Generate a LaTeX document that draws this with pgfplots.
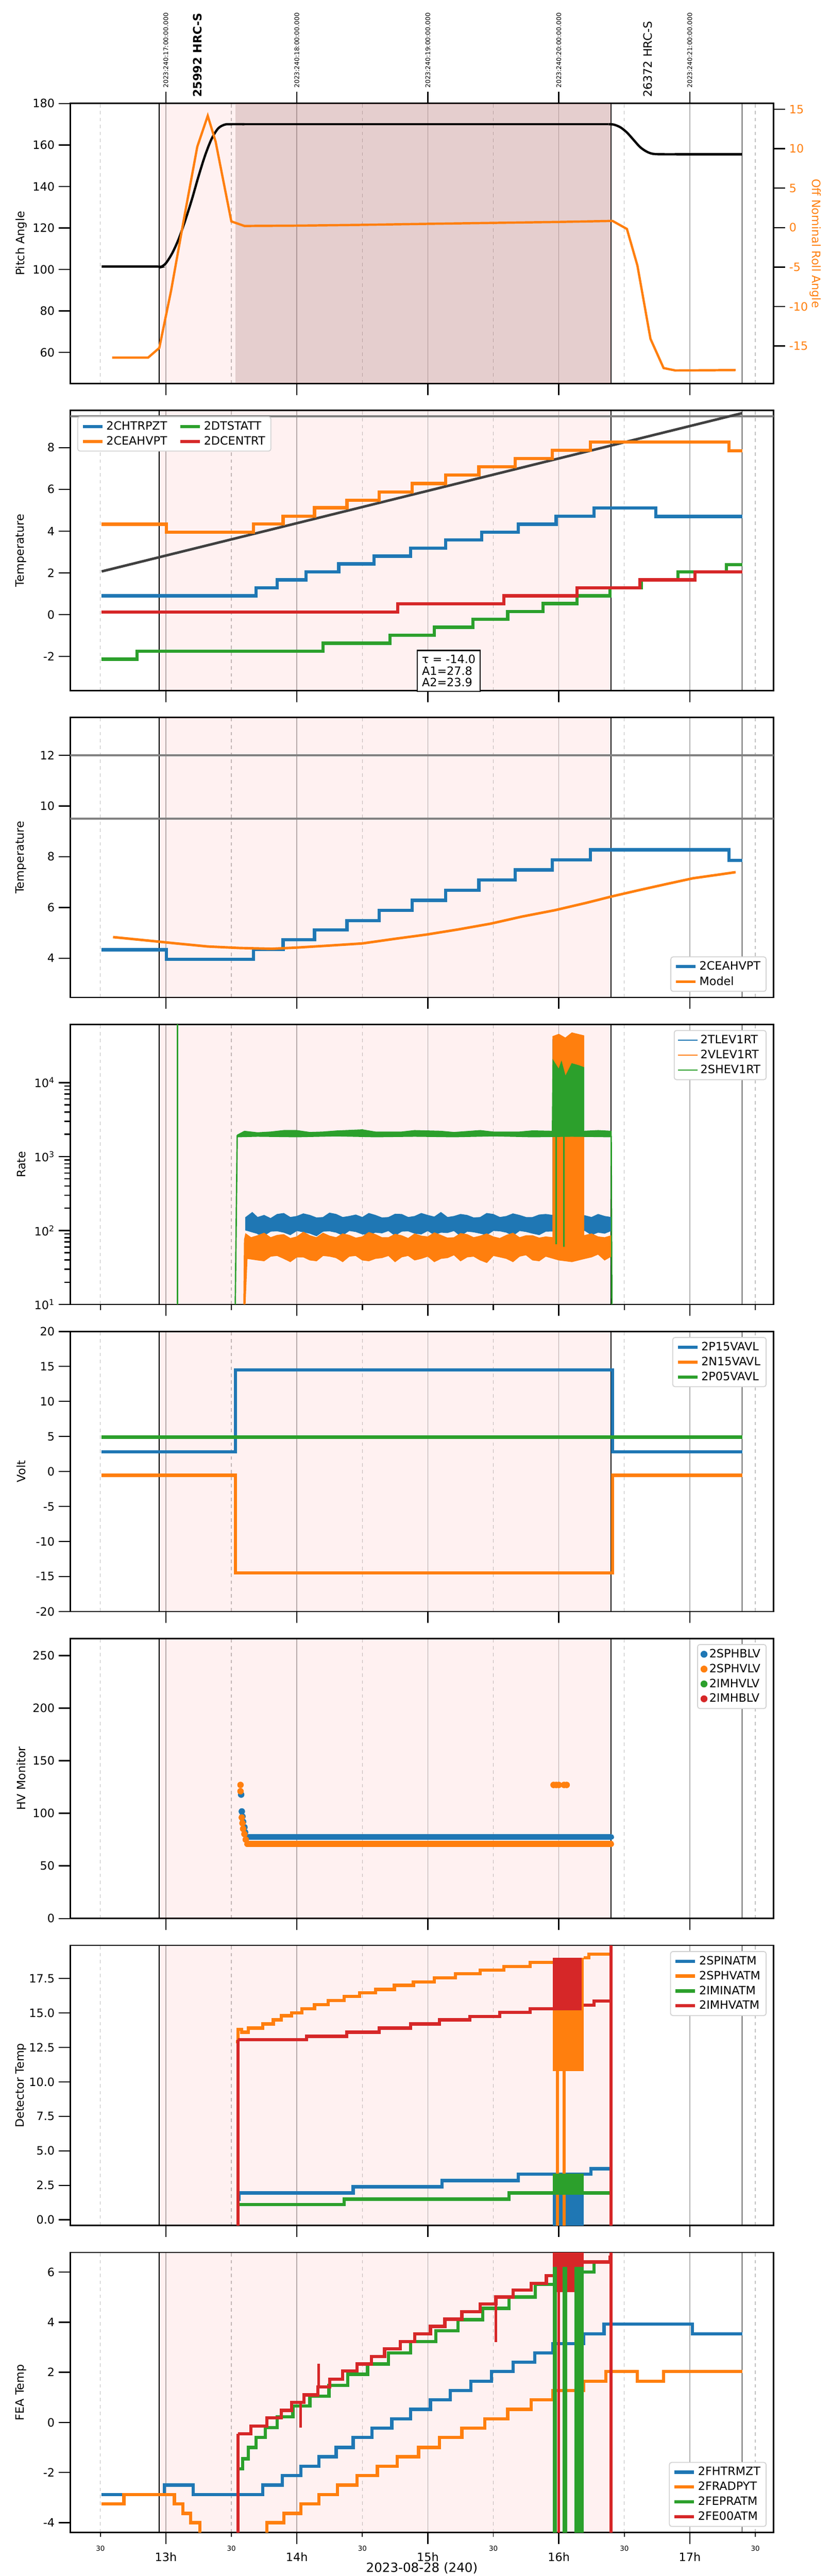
\documentclass[border=0pt]{standalone}
\usepackage{pgfplots}
\pgfplotsset{compat=1.18}
\usepackage{fontspec}
\setmainfont{DejaVu Sans}
\definecolor{tb}{HTML}{1F77B4}
\definecolor{to}{HTML}{FF7F0E}
\definecolor{tg}{HTML}{2CA02C}
\definecolor{tr}{HTML}{D62728}
\definecolor{darkreg}{RGB}{150,100,100}
\newcommand{\fs}[1]{\fontsize{#1}{#1}\selectfont}
\newcommand{\decor}{%
 \fill[red, opacity=0.055] (rel axis cs:0.12663,0) rectangle (rel axis cs:0.76909,1);
 \draw[black, line width=0.8pt] (rel axis cs:0.12663,0)--(rel axis cs:0.12663,1);
 \draw[black, line width=0.8pt] (rel axis cs:0.76909,0)--(rel axis cs:0.76909,1);
 \draw[black, line width=0.6pt] (rel axis cs:0.95531,0)--(rel axis cs:0.95531,1);}
\pgfplotsset{
 base/.style={scale only axis, width=8.465in, height=3.37in, xmin=12.27, xmax=17.64,
  anchor=north west, axis line style={line width=1.2pt},
  xtick={13,14,15,16,17}, xticklabels={}, minor xtick={12.5,13.5,14.5,15.5,16.5,17.5},
  xmajorgrids, xminorgrids,
  major grid style={gray!60, line width=0.6pt},
  minor grid style={gray!50, dashed, line width=0.6pt},
  tick style={black, line width=1.1pt}, major tick length=10pt, minor tick length=0pt,
  tick align=outside, xtick pos=bottom, ytick pos=left,
  /pgf/number format/assume math mode=true,
  tick label style={font=\fs{10}},
  ylabel style={at={(axis description cs:-0.0697,0.5)}, anchor=center, font=\fs{10}},
  legend style={font=\fs{10}, draw=gray!35, rounded corners=2pt, line width=0.8pt, cells={anchor=west}},
  legend cell align=left,
 },
 stp/.style={const plot, line width=2.8pt, legend image code/.code={\draw (0cm,0cm) -- (0.6cm,0cm);}},
}
\begin{document}
\begin{tikzpicture}
\useasboundingbox (0,0) rectangle (10in,31in);
% ---------------- Panel 1
\begin{axis}[base, at={(0.845in,29.755in)}, ymin=45.1, ymax=180, ytick={60,80,...,180},
  ylabel={Pitch Angle}, xtick pos=both, xticklabel pos=upper,
  xticklabels={2023:240:17:00:00.000,2023:240:18:00:00.000,2023:240:19:00:00.000,2023:240:20:00:00.000,2023:240:21:00:00.000},
  xticklabel style={rotate=90, anchor=west, font=\fs{5.5}, xshift=0pt}]
\decor
\fill[darkreg, opacity=0.25] (rel axis cs:0.23464,0) rectangle (rel axis cs:0.76909,1);
\addplot[black, line width=2pt, smooth] coordinates {(12.51,101.4)(12.93,101.4)(12.96,101.2)(13.0,103)(13.05,108)(13.1,115)(13.15,124)(13.2,134)(13.25,145)(13.3,155)(13.35,163)(13.4,168)(13.45,169.8)(13.5,170)(13.6,170)};
\addplot[black, line width=2pt] coordinates {(13.6,170)(16.38,170)};
\addplot[black, line width=2pt, smooth] coordinates {(16.38,170)(16.42,169.8)(16.47,168.5)(16.52,166)(16.57,162.5)(16.62,159)(16.67,156.8)(16.72,155.7)(16.8,155.5)(16.9,155.5)};
\addplot[black, line width=2pt] coordinates {(16.9,155.5)(17.40,155.5)};
\end{axis}
\node[rotate=90, anchor=west, font=\bfseries\fs{10}] at ({0.845in+(13.24-12.27)/5.37*8.465in},29.78in) {25992 HRC-S};
\node[rotate=90, anchor=west, font=\fs{10}] at ({0.845in+(16.68-12.27)/5.37*8.465in},29.78in) {26372 HRC-S};
\begin{axis}[base, at={(0.845in,29.755in)}, ymin=-19.75, ymax=15.74, axis y line*=right,
  axis x line=none, ytick={-15,-10,...,15}, xmajorgrids=false, xminorgrids=false,
  ytick pos=right, yticklabel style={text=to},
  ylabel={Off Nominal Roll Angle}, ylabel style={at={(axis description cs:1.059,0.5)}, text=to, rotate=180}]
\addplot[to, line width=2pt] coordinates {(12.59,-16.47)(12.865,-16.47)(12.95,-15.25)(13.04,-8.0)(13.14,1.27)(13.24,10.25)(13.32,14.17)(13.38,10.9)(13.50,0.79)(13.60,0.21)(14.0,0.25)(14.5,0.35)(15.0,0.48)(15.5,0.6)(16.0,0.72)(16.41,0.85)(16.52,-0.17)(16.60,-4.8)(16.70,-14.1)(16.80,-17.8)(16.89,-18.1)(17.35,-18.05)};
\end{axis}
% ---------------- Panel 2
\begin{axis}[base, at={(0.845in,26.0605in)}, ymin=-3.63, ymax=9.78, ytick={-2,0,...,8},
  ylabel={Temperature}, clip mode=individual,
  legend columns=2, transpose legend,
  legend style={at={(0.01,0.979)}, anchor=north west, /tikz/every even column/.append style={column sep=8pt}}]
\decor
\addplot[gray, line width=1.5pt, forget plot] coordinates {(12.27,9.5)(17.64,9.5)};
\addplot[black!75, line width=2.2pt, forget plot] coordinates {(12.51,2.07)(17.40,9.65)};
\addplot[tb, stp] coordinates {(12.51,0.9)(13.69,1.28)(13.85,1.67)(14.07,2.05)(14.32,2.43)(14.59,2.8)(14.87,3.18)(15.135,3.57)(15.41,3.95)(15.69,4.33)(15.98,4.72)(16.27,5.1)(16.74,4.7)(17.40,4.7)};
\addlegendentry{2CHTRPZT}
\addplot[to, stp] coordinates {(12.51,4.33)(13.003,3.95)(13.67,4.35)(13.895,4.72)(14.135,5.12)(14.383,5.48)(14.63,5.88)(14.88,6.28)(15.135,6.68)(15.39,7.08)(15.666,7.48)(15.95,7.88)(16.24,8.27)(17.30,7.85)(17.40,7.85)};
\addlegendentry{2CEAHVPT}
\addplot[tg, stp] coordinates {(12.51,-2.13)(12.78,-1.75)(14.20,-1.37)(14.71,-0.98)(15.05,-0.6)(15.345,-0.22)(15.61,0.15)(15.88,0.53)(16.14,0.9)(16.39,1.28)(16.63,1.67)(16.91,2.05)(17.28,2.4)(17.40,2.4)};
\addlegendentry{2DTSTATT}
\addplot[tr, stp] coordinates {(12.51,0.13)(14.77,0.52)(15.58,0.9)(16.14,1.28)(16.62,1.67)(17.04,2.05)(17.40,2.05)};
\addlegendentry{2DCENTRT}
\node[draw, fill=white, line width=1.1pt, align=left, anchor=north, font=\fs{10}, inner sep=4pt] at (axis cs:15.16,-1.68) {τ = -14.0\\A1=27.8\\A2=23.9};
\end{axis}
% ---------------- Panel 3
\begin{axis}[base, at={(0.845in,22.366in)}, ymin=2.45, ymax=13.49, ytick={4,6,...,12},
  ylabel={Temperature}, legend style={at={(0.99,0.02)}, anchor=south east}]
\decor
\addplot[gray, line width=1.5pt, forget plot] coordinates {(12.27,9.5)(17.64,9.5)};
\addplot[gray, line width=1.5pt, forget plot] coordinates {(12.27,12)(17.64,12)};
\addplot[tb, stp] coordinates {(12.51,4.33)(13.003,3.95)(13.67,4.35)(13.895,4.72)(14.135,5.12)(14.383,5.48)(14.63,5.88)(14.88,6.28)(15.135,6.68)(15.39,7.08)(15.666,7.48)(15.95,7.88)(16.24,8.27)(17.30,7.85)(17.40,7.85)};
\addlegendentry{2CEAHVPT}
\addplot[to, line width=2.2pt] coordinates {(12.597,4.83)(12.87,4.69)(13.08,4.58)(13.32,4.46)(13.565,4.40)(13.81,4.37)(14.01,4.42)(14.26,4.50)(14.50,4.58)(14.745,4.76)(14.99,4.93)(15.23,5.13)(15.48,5.36)(15.72,5.64)(15.97,5.89)(16.21,6.18)(16.41,6.44)(16.62,6.69)(16.82,6.92)(17.025,7.15)(17.23,7.30)(17.35,7.39)};
\addlegendentry{Model}
\end{axis}
% ---------------- Panel 4
\begin{axis}[base, at={(0.845in,18.6715in)}, ymode=log, ymin=10, ymax=61200,
  ytick={10,100,1000,10000}, yticklabels={10\textsuperscript{1},10\textsuperscript{2},10\textsuperscript{3},10\textsuperscript{4}},
  minor tick length=5pt, ylabel={Rate}, legend style={at={(0.99,0.98)}, anchor=north east}]
\decor
\addplot[tb, fill=tb, line width=0.8pt] coordinates {(13.61,100)(13.61,150)(13.66,175)(13.7,150)(13.75,160)(13.8,145)(13.85,165)(13.9,170)(13.95,150)(14.0,155)(14.05,168)(14.1,160)(14.15,148)(14.2,150)(14.25,172)(14.3,165)(14.35,150)(14.4,155)(14.45,162)(14.5,150)(14.55,170)(14.6,160)(14.65,148)(14.7,150)(14.75,166)(14.8,165)(14.85,150)(14.9,155)(14.95,170)(15.0,160)(15.05,152)(15.1,175)(15.15,150)(15.2,155)(15.25,165)(15.3,160)(15.35,148)(15.4,150)(15.45,170)(15.5,165)(15.55,150)(15.6,155)(15.65,168)(15.7,160)(15.75,150)(15.8,150)(15.85,162)(15.9,165)(15.955,160)(15.955,38000)(16.0,35000)(16.05,40000)(16.1,38000)(16.19,38000)(16.19,160)(16.25,150)(16.3,165)(16.35,155)(16.4,150)(16.4,100)(16.35,92)(16.3,95)(16.25,88)(16.2,100)(15.9,98)(15.85,88)(15.8,92)(15.75,97)(15.7,100)(15.65,86)(15.6,95)(15.55,99)(15.5,100)(15.45,88)(15.4,92)(15.35,96)(15.3,98)(15.25,85)(15.2,100)(15.15,94)(15.1,95)(15.05,88)(15.0,100)(14.95,90)(14.9,92)(14.85,99)(14.8,98)(14.75,86)(14.7,100)(14.65,93)(14.6,95)(14.55,88)(14.5,90)(14.45,97)(14.4,100)(14.35,87)(14.3,95)(14.25,99)(14.2,98)(14.15,85)(14.1,92)(14.05,96)(14.0,100)(13.95,88)(13.9,95)(13.85,99)(13.8,98)(13.75,86)(13.7,90)};
\addlegendentry{2TLEV1RT}
\addplot[to, fill=to, line width=0.8pt] coordinates {(13.595,10)(13.60,75)(13.61,90)(13.65,80)(13.7,85)(13.75,92)(13.8,80)(13.85,86)(13.9,88)(13.95,78)(14.0,82)(14.05,95)(14.1,85)(14.15,80)(14.2,92)(14.25,84)(14.3,80)(14.35,90)(14.4,86)(14.45,79)(14.5,82)(14.55,94)(14.6,88)(14.65,80)(14.7,80)(14.75,89)(14.8,85)(14.85,78)(14.9,90)(14.95,84)(15.0,82)(15.05,93)(15.1,86)(15.15,79)(15.2,80)(15.25,91)(15.3,88)(15.35,80)(15.4,84)(15.45,90)(15.5,82)(15.55,78)(15.6,86)(15.65,92)(15.7,80)(15.75,85)(15.8,85)(15.85,79)(15.9,82)(15.955,80)(15.955,42000)(16.0,45000)(16.05,40000)(16.1,47000)(16.19,43000)(16.19,85)(16.25,90)(16.3,82)(16.35,80)(16.4,85)(16.4,45)(16.35,40)(16.3,48)(16.25,44)(16.2,42)(16.1,38)(16.0,40)(15.9,45)(15.85,39)(15.8,40)(15.75,47)(15.7,45)(15.65,38)(15.6,42)(15.55,44)(15.5,46)(15.45,37)(15.4,40)(15.35,45)(15.3,44)(15.25,39)(15.2,47)(15.15,43)(15.1,42)(15.05,38)(15.0,45)(14.95,42)(14.9,40)(14.85,46)(14.8,44)(14.75,38)(14.7,46)(14.65,43)(14.6,42)(14.55,39)(14.5,40)(14.45,46)(14.4,45)(14.35,38)(14.3,43)(14.25,45)(14.2,46)(14.15,39)(14.1,40)(14.05,44)(14.0,44)(13.95,38)(13.9,42)(13.85,46)(13.8,45)(13.75,39)(13.7,40)(13.62,42)(13.605,10)};
\addlegendentry{2VLEV1RT}
\addplot[tg, fill=tg, line width=0.8pt] coordinates {(13.545,1950)(13.6,2200)(13.7,2100)(13.8,2150)(13.9,2250)(14.0,2250)(14.1,2120)(14.2,2150)(14.3,2220)(14.5,2300)(14.6,2150)(14.8,2150)(14.9,2250)(15.1,2200)(15.2,2120)(15.4,2250)(15.5,2150)(15.7,2150)(15.8,2230)(15.95,2200)(15.955,20000)(16.0,15000)(16.02,19000)(16.05,12000)(16.1,18000)(16.15,17000)(16.19,16000)(16.19,2200)(16.3,2250)(16.4,2200)(16.4,1850)(16.1,1880)(15.8,1850)(15.5,1900)(15.2,1850)(14.9,1880)(14.6,1850)(14.3,1900)(14.0,1850)(13.7,1880)(13.55,1850)};
\addlegendentry{2SHEV1RT}
\addplot[tg, line width=1.2pt, forget plot] coordinates {(13.53,10)(13.545,1950)};
\addplot[tg, line width=1.2pt, forget plot] coordinates {(16.40,1900)(16.405,10)};
\addplot[tg, line width=1.2pt, forget plot] coordinates {(13.09,10)(13.09,61200)};
\addplot[tg, line width=1.2pt, forget plot] coordinates {(15.98,2000)(15.98,65)};
\addplot[tg, line width=1.2pt, forget plot] coordinates {(16.04,2000)(16.04,60)};
\end{axis}
% ---------------- Panel 5
\begin{axis}[base, at={(0.845in,14.977in)}, ymin=-20, ymax=20, ytick={-20,-15,...,20},
  ylabel={Volt}, legend style={at={(0.99,0.98)}, anchor=north east}]
\decor
\addplot[tb, stp] coordinates {(12.51,2.8)(13.53,14.5)(16.41,2.8)(17.40,2.8)};
\addlegendentry{2P15VAVL}
\addplot[to, stp] coordinates {(12.51,-0.55)(13.53,-14.5)(16.41,-0.55)(17.40,-0.55)};
\addlegendentry{2N15VAVL}
\addplot[tg, stp] coordinates {(12.51,4.9)(17.40,4.9)};
\addlegendentry{2P05VAVL}
\end{axis}
% ---------------- Panel 6
\begin{axis}[base, at={(0.845in,11.2825in)}, ymin=0, ymax=266.3, ytick={0,50,...,250},
  ylabel={HV Monitor}, legend style={at={(0.99,0.98)}, anchor=north east}]
\decor
\addplot[tb, line width=5pt, line cap=round, forget plot] coordinates {(13.62,77.5)(16.40,77.5)};
\addplot[to, line width=5pt, line cap=round, forget plot] coordinates {(13.62,70.9)(16.40,70.9)};
\addplot[tb, only marks, mark=*, mark size=2.6pt] coordinates {(13.575,117.8)(13.58,101.8)(13.585,97)(13.59,92)(13.6,86.8)(13.605,82)};
\addlegendentry{2SPHBLV}
\addplot[to, only marks, mark=*, mark size=2.6pt] coordinates {(13.57,127)(13.57,121)(13.58,96)(13.585,90.6)(13.59,85.3)(13.6,80.3)(13.61,75)(15.96,127)(15.98,127)(16.0,127)(16.04,127)(16.06,127)};
\addlegendentry{2SPHVLV}
\addlegendimage{tg, only marks, mark=*, mark size=2.6pt}
\addlegendentry{2IMHVLV}
\addlegendimage{tr, only marks, mark=*, mark size=2.6pt}
\addlegendentry{2IMHBLV}
\end{axis}
% ---------------- Panel 7
\begin{axis}[base, at={(0.845in,7.588in)}, ymin=-0.41, ymax=19.89, ytick={0,2.5,...,17.5},
  yticklabel style={/pgf/number format/.cd, fixed, fixed zerofill, precision=1},
  ylabel={Detector Temp}, legend style={at={(0.99,0.98)}, anchor=north east}]
\decor
\addplot[tb, stp] coordinates {(13.55,1.5)(13.56,1.95)(14.43,2.4)(15.11,2.85)(15.69,3.3)(16.245,3.7)(16.39,3.7)};
\addlegendentry{2SPINATM}
\addplot[to, stp] coordinates {(13.535,12.9)(13.55,13.8)(13.58,13.6)(13.63,13.9)(13.74,14.2)(13.82,14.5)(13.88,14.8)(13.96,15.0)(14.04,15.3)(14.135,15.6)(14.24,15.9)(14.36,16.2)(14.48,16.45)(14.60,16.7)(14.745,17.0)(14.89,17.25)(15.05,17.55)(15.21,17.85)(15.40,18.1)(15.58,18.35)(15.78,18.65)(15.955,18.65)};
\addlegendentry{2SPHVATM}
\addplot[tg, stp] coordinates {(13.55,1.1)(14.36,1.5)(15.62,1.95)(16.39,1.95)};
\addlegendentry{2IMINATM}
\addplot[tr, stp] coordinates {(13.55,13.05)(14.075,13.3)(14.38,13.6)(14.63,13.9)(14.87,14.2)(15.09,14.5)(15.32,14.75)(15.55,15.05)(15.78,15.3)(15.955,15.3)};
\addlegendentry{2IMHVATM}
\addplot[tb, fill=tb, draw=none, forget plot] coordinates {(15.955,-1)(16.19,-1)(16.19,3.3)(15.955,3.3)};
\addplot[to, fill=to, draw=none, forget plot] coordinates {(15.955,10.8)(16.19,10.8)(16.19,19.0)(15.955,19.0)};
\addplot[to, line width=2.5pt, forget plot] coordinates {(15.99,10.8)(15.99,-1)};
\addplot[to, line width=2.5pt, forget plot] coordinates {(16.04,10.8)(16.04,-1)};
\addplot[tr, fill=tr, draw=none, forget plot] coordinates {(15.955,15.2)(16.175,15.2)(16.175,19.0)(15.955,19.0)};
\addplot[tg, fill=tg, draw=none, forget plot] coordinates {(15.955,1.8)(16.19,1.8)(16.19,3.35)(15.955,3.35)};
\addplot[to, stp, forget plot] coordinates {(16.19,19.0)(16.23,19.25)(16.385,19.25)};
\addplot[tr, stp, forget plot] coordinates {(16.19,15.55)(16.27,15.85)(16.39,15.85)};
\addplot[tr, line width=2.8pt, forget plot] coordinates {(13.55,-1)(13.55,13.05)};
\addplot[tr, line width=2.8pt, forget plot] coordinates {(16.40,-1)(16.40,21)};
\end{axis}
% ---------------- Panel 8
\begin{axis}[base, at={(0.845in,3.8935in)}, ymin=-4.39, ymax=6.78, ytick={-4,-2,...,6},
  ylabel={FEA Temp}, legend style={at={(0.99,0.02)}, anchor=south east},
  xticklabels={13h,14h,15h,16h,17h}, xticklabel style={yshift=-4pt},
  extra x ticks={12.5,13.5,14.5,15.5,16.5,17.5}, extra x tick labels={30,30,30,30,30,30},
  extra x tick style={grid=none, major tick length=4pt, tick style={line width=0.8pt}, xticklabel style={yshift=0pt, font=\fs{6}}},
  xlabel={2023-08-28 (240)}, xlabel style={at={(axis description cs:0.5,0)}, anchor=center, yshift=-31pt, font=\fs{11}}]
\decor
\addplot[tb, stp] coordinates {(12.51,-2.88)(12.99,-2.5)(13.21,-2.88)(13.74,-2.5)(13.89,-2.12)(14.03,-1.75)(14.17,-1.37)(14.30,-1.0)(14.43,-0.6)(14.575,-0.22)(14.725,0.15)(14.87,0.52)(15.02,0.9)(15.17,1.27)(15.33,1.65)(15.485,2.03)(15.65,2.4)(15.815,2.78)(15.955,3.15)(16.19,3.53)(16.345,3.93)(17.02,3.53)(17.40,3.53)};
\addlegendentry{2FHTRMZT}
\addplot[to, stp] coordinates {(12.51,-3.25)(12.68,-2.88)(13.065,-3.25)(13.13,-3.63)(13.19,-4.0)(13.26,-4.6)(13.77,-4.0)(13.90,-3.63)(14.03,-3.25)(14.17,-2.88)(14.31,-2.5)(14.46,-2.12)(14.615,-1.75)(14.765,-1.37)(14.93,-1.0)(15.09,-0.6)(15.26,-0.22)(15.435,0.15)(15.61,0.52)(15.79,0.9)(15.955,1.27)(16.19,1.65)(16.36,2.03)(16.60,1.65)(16.80,2.03)(17.40,2.03)};
\addlegendentry{2FRADPYT}
\addplot[tg, stp] coordinates {(13.55,-1.85)(13.585,-1.45)(13.63,-1.0)(13.69,-0.6)(13.76,-0.2)(13.85,0.22)(13.97,0.65)(14.10,1.05)(14.245,1.48)(14.39,1.92)(14.54,2.33)(14.70,2.78)(14.87,3.22)(15.06,3.65)(15.23,4.1)(15.42,4.55)(15.62,5.0)(15.82,5.5)(15.955,5.5)};
\addlegendentry{2FEPRATM}
\addplot[tr, stp] coordinates {(13.55,-0.45)(13.65,-0.15)(13.77,0.18)(13.88,0.48)(13.96,0.8)(14.055,1.1)(14.16,1.42)(14.25,1.72)(14.35,2.05)(14.46,2.33)(14.57,2.63)(14.67,2.93)(14.79,3.22)(14.90,3.53)(15.02,3.83)(15.13,4.12)(15.26,4.42)(15.40,4.72)(15.52,5.0)(15.65,5.28)(15.79,5.55)(15.905,5.85)(15.955,5.85)};
\addlegendentry{2FE00ATM}
\addplot[tr, fill=tr, draw=none, forget plot] coordinates {(15.955,5.2)(16.19,5.2)(16.19,6.9)(15.955,6.9)};
\addplot[tg, fill=tg, draw=none, forget plot] coordinates {(15.955,-5)(15.985,-5)(15.985,6.2)(15.955,6.2)};
\addplot[tg, fill=tg, draw=none, forget plot] coordinates {(16.03,-5)(16.065,-5)(16.065,6.2)(16.03,6.2)};
\addplot[tg, fill=tg, draw=none, forget plot] coordinates {(16.12,-5)(16.19,-5)(16.19,6.2)(16.12,6.2)};
\addplot[tr, line width=2.5pt, forget plot] coordinates {(16.0,-5)(16.0,6)};
\addplot[tg, stp, forget plot] coordinates {(16.19,6.0)(16.27,6.4)(16.39,6.4)};
\addplot[tr, stp, forget plot] coordinates {(16.19,6.4)(16.39,6.6)(16.395,6.6)};
\addplot[tr, line width=2.8pt, forget plot] coordinates {(13.55,-5)(13.55,-0.45)};
\addplot[tr, line width=2.8pt, forget plot] coordinates {(16.40,-5)(16.40,7)};
\addplot[tr, line width=2.2pt, forget plot] coordinates {(14.165,1.42)(14.165,2.35)};
\addplot[tr, line width=2.2pt, forget plot] coordinates {(15.52,4.72)(15.52,3.2)};
\addplot[tr, line width=2.2pt, forget plot] coordinates {(14.03,0.8)(14.03,-0.2)};
\end{axis}
\end{tikzpicture}
\end{document}
